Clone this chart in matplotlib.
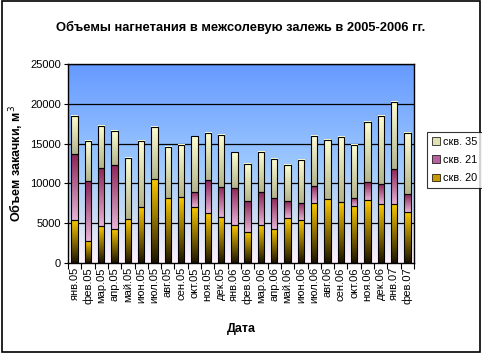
import matplotlib

matplotlib.use("Agg")
import matplotlib.pyplot as plt
import numpy as np
from matplotlib.colors import LinearSegmentedColormap
from matplotlib.patches import Patch, Rectangle

months = [
    "янв.05", "фев.05", "мар.05", "апр.05", "май.05", "июн.05", "июл.05",
    "авг.05", "сен.05", "окт.05", "ноя.05", "дек.05", "янв.06", "фев.06",
    "мар.06", "апр.06", "май.06", "июн.06", "июл.06", "авг.06", "сен.06",
    "окт.06", "ноя.06", "дек.06", "янв.07", "фев.07",
]
skv20 = [5450, 2770, 4650, 4270, 5530, 7040, 10560, 8170, 8300, 7040, 6290, 5780, 4780,
         3900, 4780, 4270, 5660, 5400, 7540, 8040, 7670, 7160, 7920, 7420, 7420, 6410]
skv21 = [8250, 7530, 7290, 8050, 0, 0, 0, 0, 0, 1930, 4140, 3770, 4650,
         3890, 4140, 3900, 2130, 2140, 2140, 0, 0, 1010, 2260, 2510, 4400, 2260]
skv35 = [4780, 5040, 5320, 4270, 7670, 8300, 6540, 6410, 6570, 7030, 5910, 6540, 4520,
         4650, 5030, 4900, 4530, 5410, 6280, 7420, 8170, 6660, 7540, 8550, 8420, 7670]

# gradients: bottom colour -> top colour, plus legend swatch colour
series = [
    ("скв. 20", skv20, "#1a1200", "#ffcc00", "#c89a00"),
    ("скв. 21", skv21, "#e6b4d6", "#8c2456", "#b8609a"),
    ("скв. 35", skv35, "#b4b48c", "#ffffd2", "#e0e0b0"),
]

plt.rcParams["font.family"] = ["Liberation Sans", "DejaVu Sans"]


def _gradient(ax, x0, x1, y0, y1, cmap, zorder=2):
    grad = np.linspace(1, 0, 128).reshape(-1, 1)
    ax.imshow(grad, cmap=cmap, extent=[x0, x1, y0, y1], aspect="auto",
              interpolation="bilinear", zorder=zorder, vmin=0, vmax=1)


def draw_chart():
    fig = plt.figure(figsize=(4.82, 3.53), dpi=100)
    ax = fig.add_axes([0.141, 0.255, 0.718, 0.564])
    n = len(months)
    x = np.arange(n)
    xlim = (-0.5, n - 0.5)
    ylim = (0, 25000)

    # plot area background
    bg = LinearSegmentedColormap.from_list(
        "bg", ["#fff2fc", "#c6daf2", "#9cc8ff", "#80b0ff", "#6699ff"])
    _gradient(ax, xlim[0], xlim[1], ylim[0], ylim[1], bg, zorder=0)
    for y in range(5000, 25001, 5000):
        ax.axhline(y, color="black", lw=0.9, zorder=1)

    w = 0.48
    bottom = np.zeros(n)
    for name, vals, c_bot, c_top, _ in series:
        cmap = LinearSegmentedColormap.from_list(name, [c_bot, c_top])
        vals = np.array(vals, dtype=float)
        for i in range(n):
            if vals[i] <= 0:
                continue
            _gradient(ax, x[i] - w / 2, x[i] + w / 2, bottom[i], bottom[i] + vals[i], cmap)
            ax.add_patch(Rectangle((x[i] - w / 2, bottom[i]), w, vals[i], fill=False,
                                   edgecolor="black", lw=0.8, zorder=3))
        bottom += vals

    ax.set_xlim(*xlim)
    ax.set_ylim(*ylim)
    ax.set_yticks(range(0, 25001, 5000))
    ax.tick_params(axis="y", labelsize=8, length=3, width=0.8, pad=2)
    ax.set_xticks(x)
    ax.set_xticklabels(months, rotation=90, fontsize=8)
    ax.tick_params(axis="x", which="major", length=0, pad=3)
    ax.set_xticks(np.arange(n + 1) - 0.5, minor=True)
    ax.tick_params(axis="x", which="minor", length=4, width=0.8)
    for s in ax.spines.values():
        s.set_linewidth(1.0)
        s.set_zorder(4)

    ax.set_ylabel("Объем закачки, м$^3$", fontsize=9, fontweight="bold", labelpad=3)
    ax.set_xlabel("Дата", fontsize=9, fontweight="bold", labelpad=14)
    fig.text(0.5, 0.922, "Объемы нагнетания в межсолевую залежь в 2005-2006 гг.",
             ha="center", va="center", fontsize=9.3, fontweight="bold")

    handles = [Patch(facecolor=c, edgecolor="black", lw=0.5, label=name)
               for name, _, _, _, c in series][::-1]
    leg = fig.legend(handles=handles, loc="upper left", bbox_to_anchor=(0.886, 0.627),
                     fontsize=8, frameon=True, fancybox=False, handlelength=0.7,
                     handleheight=0.7, handletextpad=0.25, borderpad=0.45,
                     borderaxespad=0, labelspacing=0.75)
    leg.get_frame().set_edgecolor("black")
    leg.get_frame().set_linewidth(0.8)
    leg._legend_box.align = "left"
    for t in leg.get_texts():
        t.set_fontsize(7.8)

    fig.patches.append(Rectangle((0.004, 0.004), 0.992, 0.992, transform=fig.transFigure,
                                 fill=False, edgecolor="black", lw=1.2))
    return fig


fig = draw_chart()
fig.savefig("out.png", dpi=100)
